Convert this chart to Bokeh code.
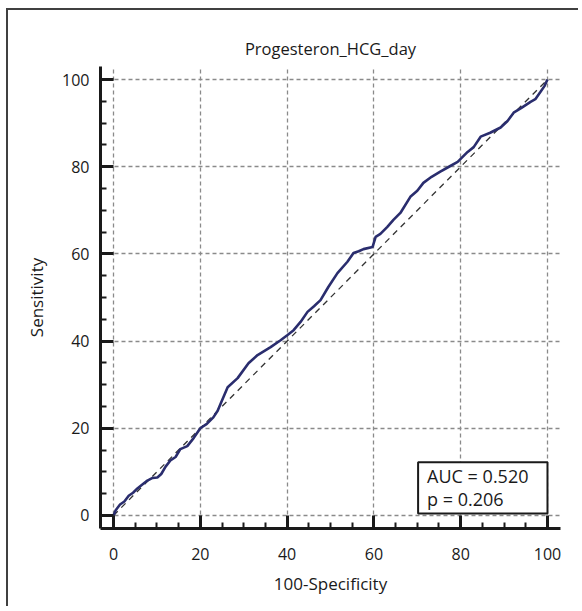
from bokeh.plotting import figure
from bokeh.models import Range1d, Label, SingleIntervalTicker, Title
from bokeh.embed import file_html
from bokeh.resources import INLINE

# ROC curve (100-Specificity vs Sensitivity)
fpr = [0, 0.5, 1.5, 2.5, 3.5, 4.5, 5.5, 6.5, 7.8, 9,
       10.1, 11, 12, 13.1, 14.3, 15.4, 17, 18.5, 20, 21.5,
       23, 24, 24.7, 26.3, 28.6, 31.1, 33.2, 36.2, 38.5, 40.1,
       41.5, 43.1, 44.7, 46.2, 47.7, 49.5, 51.6, 53.9, 55.3, 56.5,
       57.6, 59.7, 60.4, 61.5, 63.1, 64.5, 66.1, 68.4, 70, 71.4,
       73.3, 75.3, 77.3, 79.3, 81.6, 83, 84.6, 86.8, 89.2, 90.8,
       92.2, 94, 96.1, 97.2, 98.4, 99.3, 100]
tpr = [0, 1.2, 2.5, 3.2, 4.5, 5.2, 6.2, 7.0, 8.0, 8.6,
       8.7, 9.5, 11.2, 12.6, 13.4, 15.2, 15.9, 17.8, 20.0, 21.0,
       22.5, 24.0, 25.7, 29.4, 31.5, 34.9, 36.8, 38.6, 40.2, 41.4,
       42.5, 44.4, 46.7, 48.0, 49.4, 52.4, 55.6, 58.2, 60.2, 60.6,
       61.1, 61.6, 63.9, 64.6, 66.2, 67.8, 69.4, 73.1, 74.5, 76.3,
       77.7, 78.9, 80.0, 81.1, 83.4, 84.5, 86.9, 87.8, 89.0, 90.5,
       92.4, 93.5, 94.9, 95.5, 97.2, 98.5, 100]
diag_x = [0, 100]
diag_y = [0, 100]
title_text = "Progesteron_HCG_day"
x_label = "100-Specificity"
y_label = "Sensitivity"
auc_text = "AUC = 0.520\np = 0.206"

FONT = "Open Sans"
INK = "#1a1a1a"

p = figure(frame_width=460, frame_height=462,
           min_border_left=92, min_border_right=20,
           min_border_top=56, min_border_bottom=80,
           x_range=Range1d(-3, 103), y_range=Range1d(-3, 103),
           output_backend="svg", toolbar_location=None,
           background_fill_color="white", border_fill_color="white")
p.styles = {"margin-left": "8px", "margin-top": "10px",
            "box-shadow": "-2px -2px 0px 0px #404040"}
p.outline_line_color = None

t = Title(text=title_text, align="center",
          text_font=FONT, text_font_size="16.5px", text_font_style="normal",
          text_color=INK, standoff=14)
p.add_layout(t, "above")

for ax in (p.xaxis[0], p.yaxis[0]):
    ax.ticker = SingleIntervalTicker(interval=20, num_minor_ticks=4)
    ax.axis_line_width = 3
    ax.axis_line_color = INK
    ax.major_tick_in = 13
    ax.major_tick_out = 0
    ax.major_tick_line_width = 3
    ax.major_tick_line_color = INK
    ax.minor_tick_in = 6
    ax.minor_tick_out = 0
    ax.minor_tick_line_width = 2
    ax.minor_tick_line_color = INK
    ax.major_label_text_font = FONT
    ax.major_label_text_font_size = "16px"
    ax.major_label_text_color = INK
    ax.axis_label_text_font = FONT
    ax.axis_label_text_font_size = "17px"
    ax.axis_label_text_font_style = "normal"
    ax.axis_label_text_color = INK

p.xaxis.axis_label = x_label
p.yaxis.axis_label = y_label
p.xaxis.major_label_standoff = 19
p.yaxis.major_label_standoff = 11
p.xaxis.axis_label_standoff = 9
p.yaxis.axis_label_standoff = 11

for g in (p.xgrid[0], p.ygrid[0]):
    g.ticker = SingleIntervalTicker(interval=20)
    g.grid_line_color = "#8a8a8a"
    g.grid_line_dash = "4 3"
    g.grid_line_width = 1.3

p.line(diag_x, diag_y, line_color="#333333", line_width=1.3, line_dash="6 5")
p.line(fpr, tpr, line_color="#2a2d6e", line_width=2.6)

box = Label(x=100, y=0, anchor="bottom_right", text=auc_text, y_offset=2,
            text_font=FONT, text_font_size="18px", text_color=INK,
            text_line_height=0.97,
            padding=dict(top=2, right=19, bottom=2, left=9),
            border_line_color=INK, border_line_width=2,
            background_fill_color="white", background_fill_alpha=1.0)
p.add_layout(box)

open("out.html", "w").write(file_html(p, INLINE))
